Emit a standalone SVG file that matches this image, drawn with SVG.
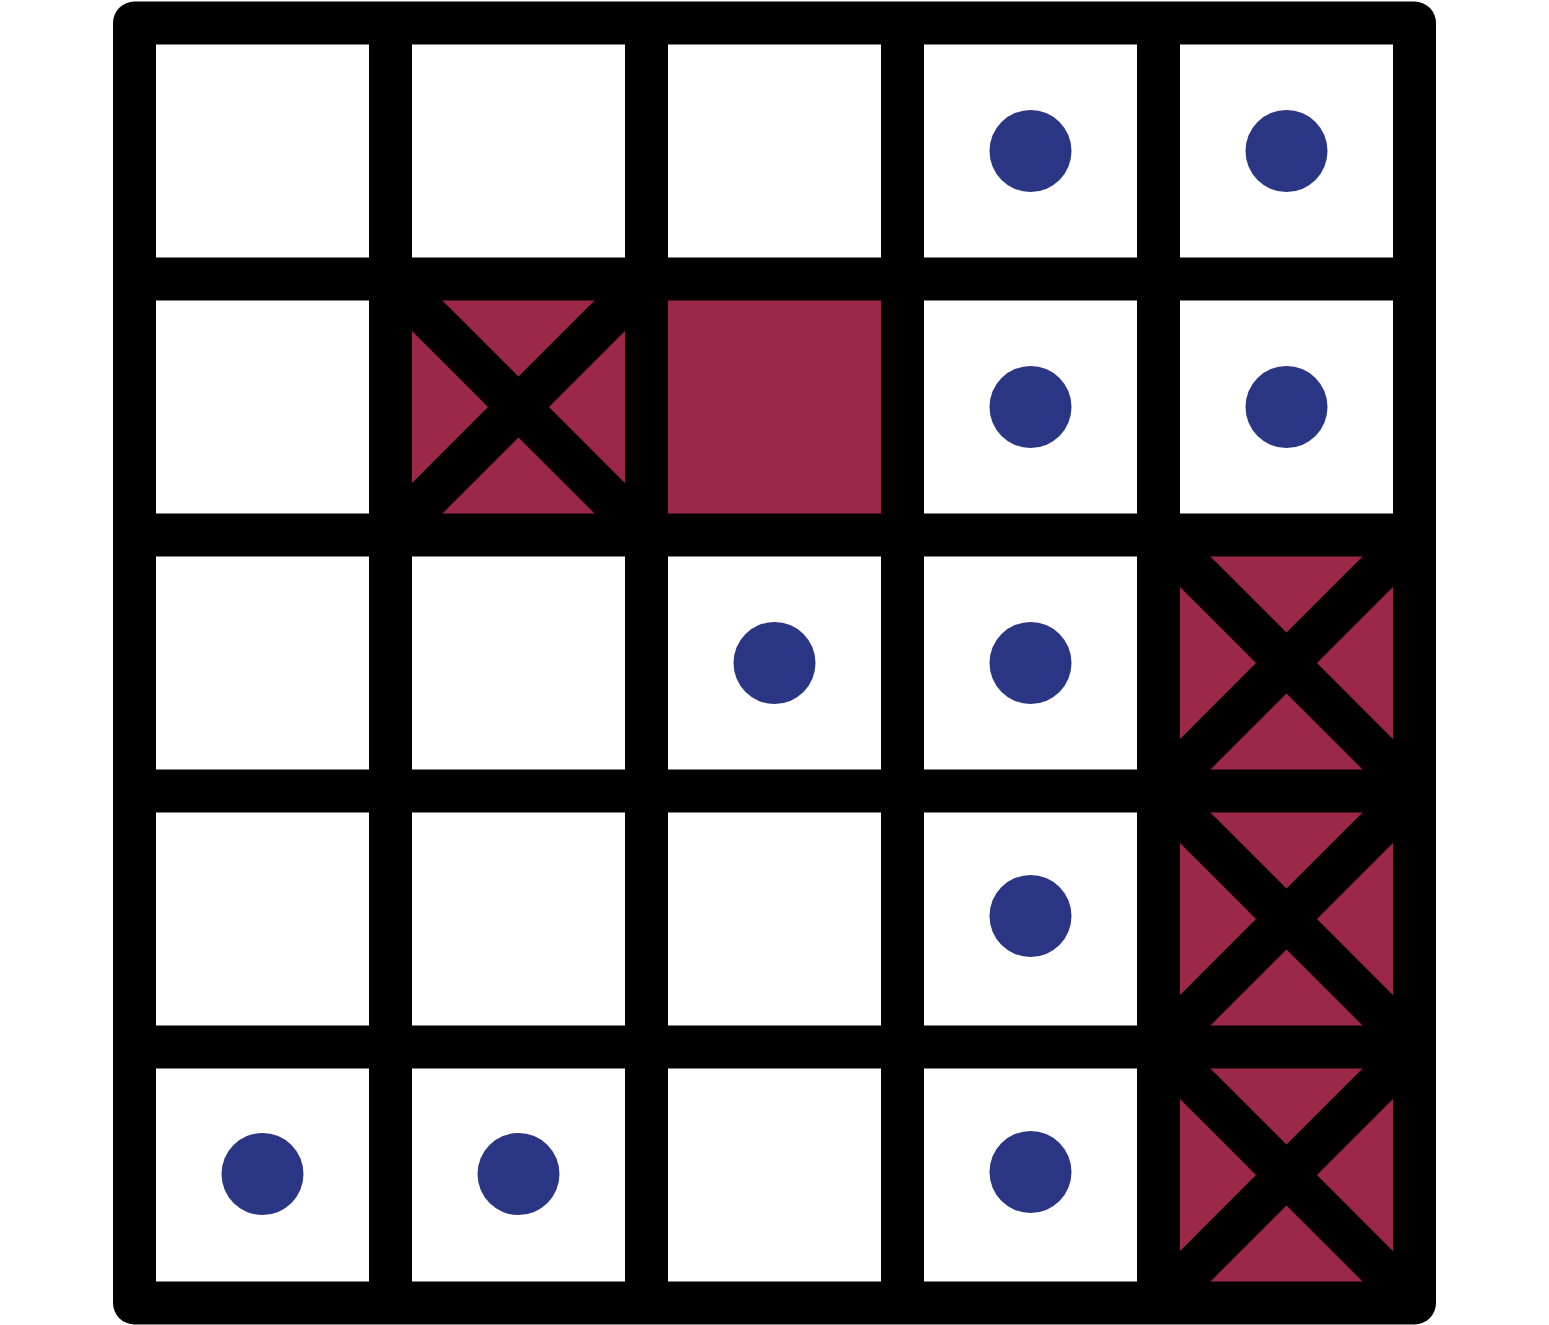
<svg xmlns="http://www.w3.org/2000/svg" width="1549" height="1325" viewBox="0 0 1549 1325">
<style>
.g{fill:none;stroke:#000;stroke-width:43;stroke-linecap:round;stroke-linejoin:round}
.r{fill:#9b2846}
.d{fill:#2a3683}
</style>
<rect width="1549" height="1325" fill="#fff"/>
<g id="cells">
<rect class="r" x="390.5" y="279" width="256" height="256"/>
<rect class="r" x="646.5" y="279" width="256" height="256"/>
<rect class="r" x="1158.5" y="535" width="256" height="256"/>
<rect class="r" x="1158.5" y="791" width="256" height="256"/>
<rect class="r" x="1158.5" y="1047" width="256" height="256"/>
</g>
<g id="crosses" class="g" style="stroke-linecap:butt">
<path d="M390.5 279L646.5 535M646.5 279L390.5 535"/>
<path d="M1158.5 535L1414.5 791M1414.5 535L1158.5 791"/>
<path d="M1158.5 791L1414.5 1047M1414.5 791L1158.5 1047"/>
<path d="M1158.5 1047L1414.5 1303M1414.5 1047L1158.5 1303"/>
</g>
<g id="grid" class="g">
<rect x="134.5" y="23" width="1280" height="1280"/>
<path d="M390.5 23V1303M646.5 23V1303M902.5 23V1303M1158.5 23V1303" style="stroke-linecap:butt"/>
<path d="M134.5 279H1414.5M134.5 535H1414.5M134.5 791H1414.5M134.5 1047H1414.5" style="stroke-linecap:butt"/>
</g>
<g id="dots">
<circle class="d" cx="1030.5" cy="151" r="41"/>
<circle class="d" cx="1286.5" cy="151" r="41"/>
<circle class="d" cx="1030.5" cy="407" r="41"/>
<circle class="d" cx="1286.5" cy="407" r="41"/>
<circle class="d" cx="774.5" cy="663" r="41"/>
<circle class="d" cx="1030.5" cy="663" r="41"/>
<circle class="d" cx="1030.5" cy="916" r="41"/>
<circle class="d" cx="262.5" cy="1174" r="41"/>
<circle class="d" cx="518.5" cy="1174" r="41"/>
<circle class="d" cx="1030.5" cy="1172" r="41"/>
</g>
</svg>
